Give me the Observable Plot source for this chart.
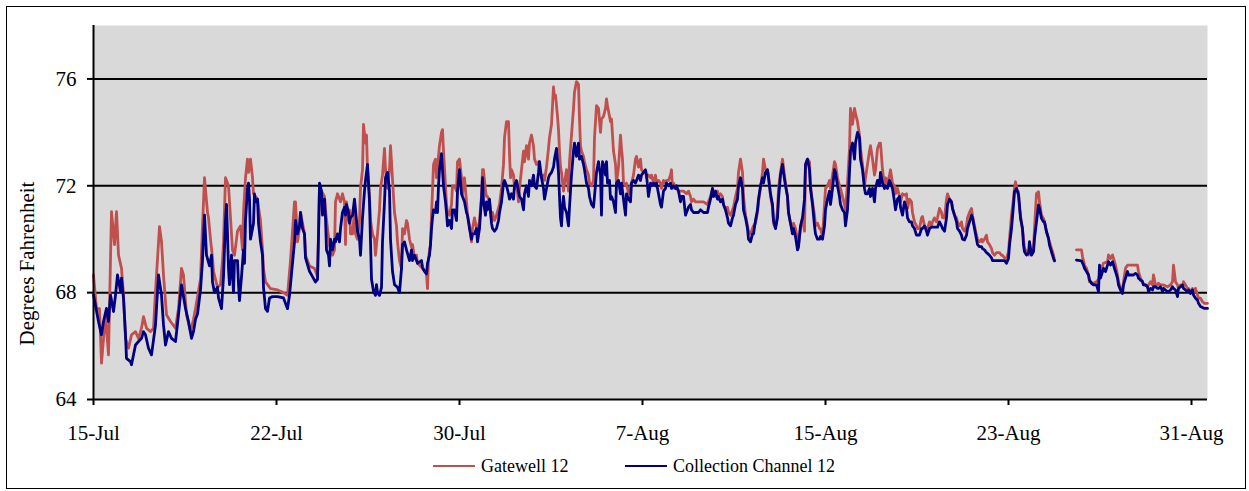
<!DOCTYPE html>
<html>
<head>
<meta charset="utf-8">
<script src="https://cdn.jsdelivr.net/npm/d3@7"></script>
<script src="https://cdn.jsdelivr.net/npm/@observablehq/plot@0.6"></script>
<style>
  html, body { margin: 0; padding: 0; background: #fff; }
  body { width: 1249px; height: 491px; position: relative; overflow: hidden;
         font-family: "Liberation Serif", "Times New Roman", serif; }
  #chart { position: absolute; left: 0; top: 0; }
  #border { position: absolute; left: 6px; top: 6px; width: 1240px; height: 483px;
            border: 1.5px solid #000; box-sizing: border-box; pointer-events: none; }
  .leg { position: absolute; top: 455px; height: 22px; display: flex; align-items: center;
         font-size: 18px; color: #000; white-space: nowrap; }
  .sw { display: inline-block; width: 42px; height: 2.8px; margin-right: 6px; }
</style>
</head>
<body>
<div id="chart"></div>
<div class="leg" style="left:433px"><span class="sw" style="background:#c0504d"></span>Gatewell 12</div>
<div class="leg" style="left:625px"><span class="sw" style="background:#000080"></span>Collection Channel 12</div>
<div id="border"></div>
<script>
// x = hours since 15-Jul 00:00, y = degrees Fahrenheit
const tickHours = [0, 183, 366, 549, 732, 915, 1098];
const tickLabels = ["15-Jul", "22-Jul", "30-Jul", "7-Aug", "15-Aug", "23-Aug", "31-Aug"];
const yTicks = [64, 68, 72, 76];
const gridTicks = [68, 72, 76];
const seriesNames = ["Gatewell 12", "Collection Channel 12"];

const gatewell12 = [
[0,68.66],[3,67.4],[6,67.4],[8,65.36],[12,67.17],[15,65.67],[18,71.03],[21,69.8],[23,71.03],[25,69.41],[28,68.91],[30,67.91],[32,66.29],[35,65.92],[38,66.42],[42,66.54],[45,66.29],[48,66.67],[50,67.1],[53,66.67],[57,66.54],[60,66.67],[62,68.04],[66,70.47],[68,69.91],[70,68.66],[73,67.17],[77,66.92],[82,66.67],[85,67.41],[88,68.91],[90,68.66],[93,67.17],[97,66.54],[100,67.0],
[102,67.4],[107,68.5],[109,70.5],[111,72.3],[114,71.0],[115,70.8],[117,70.0],[119,69.3],[120,68.8],[124,68.2],[127,68.3],[129,69.2],[130,69.9],[132,72.3],[135,72.0],[137,70.8],[139,69.6],[141,69.4],[144,70.3],[147,70.5],[149,69.6],[150,71.0],[152,72.3],[154,73.0],[155,72.5],[157,73.0],[159,72.3],[160,71.7],[164,71.5],[165,71.2],[167,70.7],[169,69.6],[170,68.9],[172,68.4],[177,68.15],[184,68.1],[190,68.0],[194,67.9],[197,69.2],[199,70.3],
[201,71.4],[202,71.4],[204,69.9],[206,70.4],[207,71.0],[211,70.2],[212,69.4],[216,69.0],[221,68.9],[224,68.6],[226,71.9],[228,71.8],[231,71.6],[232,71.1],[234,70.4],[236,69.8],[239,69.4],[241,69.6],[242,71.4],[244,71.7],[247,71.4],[249,71.7],[251,71.4],[252,69.8],[253,71.4],[255,70.7],[256,71.1],[257,70.2],[259,70.2],[261,71.1],[262,70.2],[264,70.0],[266,70.7],[267,71.9],[269,72.6],[270,74.3],[272,73.6],[273,73.9],[274,72.6],[276,71.6],[277,70.7],[279,70.2],[281,70.0],[282,69.4],[284,70.2],[286,71.1],[287,71.9],[289,72.4],[291,73.4],[292,72.6],[294,71.9],[296,72.6],[297,73.5],[298,72.9],[300,71.6],
[301,71.0],[303,70.5],[304,69.9],[306,69.2],[308,68.9],[309,70.4],[311,70.2],[313,70.7],[314,70.6],[316,70.0],[318,69.7],[319,69.8],[321,69.3],[323,69.4],[324,69.1],[328,68.95],[333,68.7],[334,68.15],[335,69.3],[337,69.8],[338,70.9],[339,71.8],[340,72.8],[342,73.0],[343,72.3],[344,72.5],[345,73.1],[346,73.5],[348,74.0],[349,74.1],[350,73.3],[352,72.0],[353,71.3],[354,71.0],[356,70.9],[358,71.3],[359,72.0],[361,72.0],[363,71.8],[364,72.9],[366,73.0],[368,72.3],[369,71.7],[371,72.3],[373,71.4],[374,70.9],[376,70.5],[378,69.9],[379,70.4],[381,70.8],[383,70.4],[384,70.3],[386,70.7],[388,71.6],[389,72.6],[390,72.6],[392,71.8],[393,71.6],[394,71.6],[396,71.4],[398,70.7],[399,71.0],[401,70.7],
[403,70.9],[406,71.3],[408,71.9],[410,72.8],[411,73.8],[413,74.4],[415,74.4],[416,73.2],[417,72.3],[418,72.6],[420,72.4],[421,71.9],[423,72.1],[425,71.4],[426,71.9],[428,72.6],[430,73.3],[431,72.9],[433,73.5],[435,73.0],[436,73.6],[438,73.9],[440,73.5],[441,73.0],[443,72.8],[445,72.9],[446,72.6],[448,72.3],[450,72.4],[451,72.2],[453,72.7],[455,73.4],[456,73.8],[458,74.3],[460,75.7],[461,75.3],[462,75.4],[464,74.6],[465,74.1],[466,73.3],[467,72.7],[468,72.5],[470,71.8],[471,72.1],[473,72.6],[475,71.8],[476,72.9],[478,73.9],[480,74.9],[481,75.5],[483,75.9],[485,75.8],[486,74.5],[487,73.5],[488,73.3],[490,73.1],[491,72.9],[493,72.6],[495,72.4],[496,72.1],[498,72.0],[500,72.2],[501,73.8],[503,75.0],
[505,74.9],[507,74.0],[508,74.5],[510,74.6],[512,74.9],[513,75.25],[514,75.0],[516,74.6],[517,74.4],[518,74.5],[520,73.3],[522,72.8],[523,72.1],[525,72.7],[527,73.9],[528,73.4],[529,73.0],[530,72.1],[532,72.0],[533,72.1],[535,71.7],[537,72.0],[538,72.1],[540,72.4],[542,73.0],[543,73.1],[545,72.7],[547,73.0],[548,72.6],[550,72.5],[552,72.5],[553,72.3],[555,72.4],[557,72.3],[558,72.4],[560,72.1],[562,72.4],[563,72.1],[565,72.2],[567,72.1],[568,71.9],[570,72.2],[572,72.1],[573,72.2],[575,72.2],[577,72.4],[578,72.6],[579,71.9],[580,72.1],[582,71.9],[583,71.9],[585,71.8],[587,71.8],[590,71.8],[593,71.7],[595,71.8],[597,71.6],[598,71.4],[600,71.5],[602,71.4],[605,71.4],
[607,71.4],[610,71.4],[614,71.3],[617,71.6],[619,71.9],[620,71.8],[622,71.6],[624,71.8],[625,71.6],[627,71.7],[629,71.6],[630,71.3],[632,71.1],[634,71.2],[635,71.0],[637,70.9],[639,71.1],[640,71.2],[642,71.6],[644,71.9],[645,72.5],[647,73.0],[649,72.5],[650,71.6],[652,70.9],[654,70.5],[655,70.3],[657,70.2],[659,70.4],[660,70.5],[662,70.6],[664,71.0],[665,71.4],[667,71.9],[669,72.5],[670,73.0],[672,72.6],[674,72.6],[675,72.4],[677,71.6],[679,71.2],[680,70.6],[682,70.4],[684,71.1],[685,71.9],[687,72.5],[689,73.0],[690,72.7],[692,72.1],[694,71.6],[695,71.0],[697,70.6],[699,70.4],[700,70.6],[702,70.4],[704,70.0],[705,69.8],[707,70.4],
[709,70.8],[711,70.3],[712,72.8],[714,73.0],[716,72.9],[717,72.0],[719,71.4],[721,70.9],[722,70.5],[724,70.6],[726,70.4],[727,70.4],[729,70.1],[731,71.3],[732,71.9],[734,72.0],[736,72.2],[737,71.9],[739,72.4],[741,72.9],[742,72.8],[744,72.3],[746,72.0],[747,71.9],[749,71.6],[751,71.3],[752,71.1],[754,72.1],[756,73.4],[757,74.9],[759,74.3],[761,74.9],[762,74.7],[764,74.4],[766,73.9],[767,73.4],[769,72.8],[771,72.0],[772,72.3],[774,72.8],[776,73.3],[777,73.5],[779,73.0],[781,72.4],[782,72.6],[784,73.4],[786,73.6],[787,73.6],[789,72.6],[791,72.0],[792,72.3],[794,72.1],[796,72.4],[797,72.6],[799,72.1],[801,72.0],[802,71.7],[804,71.9],[806,71.6],[807,71.4],[809,71.7],
[811,71.65],[813,71.7],[814,71.15],[816,71.5],[818,71.4],[819,71.0],[821,70.65],[823,70.5],[824,70.4],[826,70.4],[828,70.8],[829,70.85],[831,70.5],[833,70.4],[834,70.4],[836,70.65],[838,70.5],[839,70.65],[841,70.8],[843,70.65],[844,70.8],[846,71.15],[848,71.0],[849,70.8],[851,70.8],[853,71.5],[854,71.7],[856,71.5],[858,71.4],[859,71.15],[861,70.9],[863,70.8],[864,70.65],[866,70.5],[868,70.65],[869,70.4],[871,70.3],[873,70.5],[874,70.8],[876,71.0],[878,71.15],[879,70.9],[881,70.5],[883,70.15],[884,70.0],[886,69.9],[888,70.0],[889,69.9],[891,70.0],[893,70.15],[894,69.9],[896,69.8],[898,69.65],[899,69.5],[901,69.4],[903,69.5],[904,69.5],[906,69.5],[908,69.4],[909,69.4],[911,69.3],
[913,69.28],[915,69.53],[916,70.03],[918,70.9],[920,71.53],[921,71.9],[922,72.15],[924,71.78],[925,71.78],[926,71.15],[928,70.65],[930,70.03],[931,69.66],[933,69.53],[935,69.41],[936,69.53],[938,69.41],[940,69.66],[941,70.4],[943,71.71],[945,71.78],[946,71.4],[948,70.9],[950,70.78],[951,70.65],[953,70.28],[955,70.03],[956,69.91],[958,69.66],[960,69.41],[961,69.22],
[970,NaN],
[983,69.6],[988,69.6],[989,69.35],[991,69.03],[993,68.91],[995,68.66],[996,68.41],[1000,68.35],[1003,68.41],[1005,68.5],
[1007,68.8],[1010,69.1],[1014,69.16],[1015,69.41],[1017,69.28],[1019,69.41],[1020,69.28],[1022,69.03],[1024,68.66],[1025,68.41],[1027,68.16],[1029,68.1],[1030,68.41],[1032,68.91],[1034,69.03],[1037,69.03],[1040,69.03],[1044,69.03],[1045,68.79],[1047,68.54],[1049,68.41],[1050,68.29],[1052,68.29],[1054,68.22],[1055,68.29],[1057,68.41],[1059,68.29],[1060,68.66],[1062,68.29],[1064,68.29],[1065,68.35],[1067,68.29],[1070,68.29],[1074,68.22],[1077,68.29],[1079,68.41],[1080,69.03],[1082,68.41],[1084,68.29],[1085,68.16],[1087,68.29],[1089,68.22],[1090,68.41],[1092,68.29],[1094,68.16],[1095,68.16],[1097,68.04],[1099,68.16],[1100,67.97],[1102,68.16],[1104,67.91],[1105,67.79],[1107,67.79],[1109,67.66],[1111,67.6],[1114,67.6]
];

const collectionChannel12 = [
[0,67.91],[5,66.92],[8,66.42],[10,66.92],[13,67.41],[15,66.92],[17,67.91],[20,67.29],[22,67.91],[24,68.66],[27,68.04],[28,68.54],[30,67.79],[32,66.42],[33,65.54],[37,65.42],[38,65.3],[42,66.04],[45,66.17],[48,66.29],[50,66.54],[52,66.42],[55,65.92],[58,65.67],[62,66.79],[65,68.66],[68,67.91],[70,66.79],[72,66.04],[75,66.54],[78,66.29],[82,66.17],[85,67.17],[88,68.29],[92,67.41],[95,66.92],[98,66.29],[100,66.54],
[102,67.0],[104,67.2],[107,68.1],[109,69.2],[111,70.9],[113,69.4],[116,69.0],[118,69.4],[119,68.4],[121,68.0],[124,68.2],[125,67.8],[128,67.4],[129,68.0],[130,68.6],[132,70.7],[133,71.3],[134,70.2],[135,68.9],[136,68.3],[138,69.4],[139,68.7],[140,68.0],[141,69.2],[144,69.2],[145,68.3],[146,67.7],[148,68.6],[149,69.1],[150,69.6],[151,69.1],[152,70.7],[154,71.9],[155,72.1],[156,71.5],[157,70.0],[158,70.2],[160,70.6],[161,71.7],[162,71.4],[164,71.5],[165,70.6],[167,69.9],[169,69.4],[170,68.2],[172,67.4],[174,67.3],[176,67.8],[179,67.85],[184,67.85],[190,67.8],[193,67.5],[194,67.4],[196,67.9],[198,68.7],
[201,69.9],[202,70.7],[204,70.2],[206,70.5],[207,71.0],[209,70.4],[211,70.2],[212,69.3],[216,68.8],[219,68.6],[222,68.4],[224,68.5],[225,70.1],[226,72.1],[228,71.8],[229,70.9],[231,71.5],[232,70.8],[233,69.6],[235,69.4],[236,69.0],[237,70.0],[239,69.6],[241,70.0],[242,69.9],[244,70.2],[246,69.9],[247,70.4],[249,71.0],[251,71.2],[252,70.9],[253,71.3],[255,71.0],[256,70.6],[257,70.8],[259,70.9],[261,71.5],[262,71.1],[264,70.3],[266,70.0],[267,69.4],[269,70.8],[271,71.8],[272,72.2],[274,72.8],[276,71.4],[277,69.9],[278,68.5],[280,68.05],[282,67.9],[283,68.3],[284,68.0],[286,67.9],[288,68.2],[289,69.9],[291,71.4],[292,72.3],[294,72.5],[296,71.8],[297,70.0],[299,68.8],
[301,68.3],[304,68.2],[306,68.0],[308,68.9],[309,69.8],[311,69.9],[313,69.6],[316,69.2],[318,69.6],[319,69.2],[321,69.4],[323,69.2],[324,69.1],[328,69.2],[329,68.95],[331,68.8],[333,68.7],[334,69.1],[336,69.4],[337,69.8],[338,70.4],[339,70.8],[340,71.1],[342,71.0],[343,71.4],[344,71.0],[345,72.0],[346,72.6],[348,73.2],[349,72.6],[350,72.0],[352,71.4],[353,71.0],[354,70.5],[356,70.7],[358,70.4],[359,71.1],[361,71.1],[363,70.7],[364,71.8],[366,72.6],[368,71.7],[369,71.6],[371,71.4],[373,71.0],[374,70.9],[376,70.4],[378,70.0],[379,70.2],[381,70.2],[383,70.4],[384,69.9],[386,70.4],[388,71.5],[389,72.3],[390,71.4],[392,70.9],[393,71.4],[394,71.1],[396,71.5],[398,70.6],[399,70.4],[401,70.3],
[403,70.4],[405,70.7],[406,71.0],[408,71.4],[410,72.1],[411,72.2],[413,72.0],[415,71.7],[416,71.5],[418,71.7],[420,71.5],[421,72.0],[423,72.2],[425,71.8],[426,71.6],[428,71.5],[430,71.1],[431,71.7],[433,72.0],[435,71.6],[436,72.2],[438,72.0],[440,72.4],[441,72.0],[443,71.9],[445,72.5],[446,72.9],[448,72.3],[450,71.9],[451,71.5],[453,71.9],[455,72.3],[456,72.4],[458,72.5],[460,72.7],[461,73.0],[463,73.4],[465,72.5],[466,71.6],[467,70.8],[468,70.5],[469,71.2],[470,71.6],[471,71.2],[473,71.0],[475,70.5],[476,71.2],[478,72.4],[480,73.3],[481,73.6],[483,73.1],[485,73.6],[486,73.0],[488,73.1],[490,72.8],[491,72.6],[493,72.1],[495,71.9],[496,71.6],[498,71.3],[500,71.2],[501,71.6],[503,72.5],
[505,72.9],[507,72.4],[508,70.9],[509,72.9],[510,72.8],[512,72.4],[513,72.9],[514,72.1],[516,72.2],[517,71.5],[518,71.6],[520,71.4],[522,71.0],[523,72.1],[525,72.2],[527,71.7],[528,72.1],[530,71.5],[532,70.9],[533,71.7],[535,71.5],[537,71.4],[538,72.1],[540,72.2],[542,72.1],[543,72.2],[545,72.4],[547,72.2],[548,72.4],[550,72.5],[552,72.6],[553,72.4],[555,71.6],[557,72.1],[558,72.0],[560,72.1],[562,72.0],[563,72.1],[565,71.7],[567,71.3],[568,71.2],[570,71.8],[572,71.9],[573,72.1],[575,72.0],[577,72.1],[578,71.9],[580,72.0],[582,71.9],[583,72.0],[585,71.8],[587,71.4],[588,71.6],[590,71.6],[592,70.9],[593,71.0],[595,71.2],[597,71.3],[598,71.1],[600,71.0],[605,71.0],
[607,71.1],[610,71.0],[614,71.0],[615,71.2],[617,71.5],[619,71.9],[620,71.6],[622,71.8],[624,71.5],[625,71.6],[627,71.4],[629,71.5],[630,71.3],[632,71.1],[634,70.8],[635,70.6],[637,70.5],[639,70.8],[640,70.9],[642,71.3],[644,71.5],[645,72.0],[647,72.3],[649,71.9],[650,71.1],[652,70.8],[654,70.4],[655,70.0],[657,69.9],[659,70.2],[660,70.2],[662,70.7],[664,71.1],[665,71.5],[667,72.0],[669,72.3],[670,72.1],[672,72.5],[674,72.6],[675,72.3],[677,71.7],[679,71.3],[680,70.7],[682,70.4],[684,70.8],[685,71.5],[687,72.4],[689,72.8],[690,72.5],[692,72.0],[694,71.6],[695,71.0],[697,70.6],[699,70.2],[700,70.4],[702,70.1],[704,69.6],[705,69.7],[707,70.5],
[709,70.8],[711,71.5],[712,72.8],[714,73.0],[716,72.6],[717,71.9],[719,71.3],[721,70.5],[722,70.2],[724,70.0],[726,70.0],[727,70.1],[729,70.0],[731,70.5],[732,71.1],[734,71.5],[736,71.8],[737,71.3],[739,71.9],[741,72.6],[742,72.5],[744,72.0],[746,71.6],[747,71.3],[749,71.1],[751,71.0],[752,70.5],[754,71.1],[756,72.5],[757,73.3],[759,73.6],[761,73.0],[762,73.6],[764,74.0],[766,73.8],[767,73.0],[769,72.6],[771,71.9],[772,71.7],[774,71.7],[776,71.9],[777,71.6],[779,71.9],[781,71.4],[782,71.9],[784,72.2],[786,72.0],[787,72.5],[789,72.1],[791,71.9],[792,72.0],[794,71.9],[796,72.2],[797,72.1],[799,71.9],[801,71.4],[802,71.1],[804,71.5],[806,71.6],[807,71.2],[809,70.9],
[811,71.4],[813,71.15],[814,70.8],[816,70.65],[818,70.65],[819,70.5],[821,70.4],[823,70.15],[826,70.15],[828,70.4],[829,70.4],[831,70.5],[833,70.3],[834,70.15],[836,70.4],[838,70.45],[841,70.45],[844,70.45],[846,70.65],[848,70.5],[849,70.4],[851,70.3],[853,70.8],[854,71.3],[856,71.5],[858,71.4],[859,71.15],[861,70.9],[863,70.65],[864,70.4],[866,70.3],[868,70.15],[869,70.0],[871,69.97],[873,70.15],[874,70.4],[876,70.65],[878,70.9],[879,70.8],[881,70.4],[883,70.0],[884,69.8],[886,69.72],[888,69.72],[889,69.65],[891,69.6],[893,69.5],[894,69.47],[896,69.4],[898,69.3],[899,69.2],[901,69.2],[904,69.2],[908,69.2],[911,69.2],
[913,69.1],[915,69.28],[916,69.78],[918,70.4],[920,71.28],[921,71.78],[923,71.9],[925,71.65],[926,71.28],[927,70.78],[929,70.4],[930,69.78],[931,69.53],[933,69.41],[935,69.47],[936,69.91],[938,69.41],[940,69.53],[941,70.03],[943,70.65],[945,71.28],[946,71.15],[948,70.78],[950,70.65],[951,70.65],[953,70.28],[955,70.03],[956,69.78],[958,69.53],[960,69.28],[961,69.19],
[970,NaN],
[983,69.22],[988,69.19],[990,69.03],[991,68.91],[993,68.79],[995,68.66],[996,68.47],[998,68.35],[1000,68.29],[1003,68.29],[1005,68.04],[1006,69.03],[1007,68.54],
[1009,68.79],[1010,68.91],[1012,68.79],[1014,69.03],[1015,69.16],[1017,69.03],[1019,69.16],[1020,69.03],[1022,68.79],[1024,68.54],[1025,68.29],[1027,68.1],[1029,67.97],[1030,68.29],[1032,68.54],[1034,68.79],[1035,68.66],[1037,68.66],[1040,68.66],[1042,68.72],[1044,68.66],[1045,68.54],[1047,68.47],[1049,68.41],[1050,68.29],[1052,68.29],[1054,68.22],[1055,68.04],[1057,68.16],[1059,68.1],[1060,68.22],[1062,68.22],[1064,68.16],[1065,68.16],[1067,68.22],[1069,68.04],[1070,68.16],[1072,68.1],[1074,68.04],[1075,68.04],[1077,68.1],[1079,68.22],[1080,68.16],[1082,68.1],[1084,67.85],[1085,68.16],[1087,68.22],[1089,68.29],[1090,68.16],[1092,68.1],[1094,68.04],[1095,68.1],[1097,67.97],[1099,68.1],[1100,67.91],[1102,67.79],[1104,67.72],[1105,67.6],[1107,67.48],[1111,67.41],[1114,67.41]
];

const toRows = (arr, name) => arr.map(([hour, temp]) => ({hour, temp, series: name}));
const gwRows = toRows(gatewell12, seriesNames[0]);
const ccRows = toRows(collectionChannel12, seriesNames[1]);

const chart = Plot.plot({
  width: 1249,
  height: 455,
  marginLeft: 93,
  marginRight: 42,
  marginTop: 25,
  marginBottom: 56,
  style: {
    fontFamily: '"Liberation Serif", "Times New Roman", serif',
    fontSize: "21px",
    color: "#000",
    background: "transparent",
    overflow: "visible"
  },
  x: {domain: [0, 1114]},
  y: {domain: [64, 78]},
  marks: [
    Plot.frame({fill: "#d9d9d9"}),
    Plot.ruleY(gridTicks, {stroke: "#000", strokeWidth: 2}),
    Plot.line(gwRows, {x: "hour", y: "temp", stroke: "#c0504d", strokeWidth: 2.8, strokeLinejoin: "round"}),
    Plot.line(ccRows, {x: "hour", y: "temp", stroke: "#000080", strokeWidth: 2.8, strokeLinejoin: "round"}),
    Plot.ruleX([0], {stroke: "#000", strokeWidth: 2}),
    Plot.ruleY([64], {stroke: "#000", strokeWidth: 2}),
    Plot.axisY({ticks: yTicks, tickSize: 6, tickPadding: 11, label: null, strokeWidth: 2}),
    Plot.axisX({ticks: tickHours, tickSize: 6, tickPadding: 20, label: null, strokeWidth: 2,
                tickFormat: d => tickLabels[tickHours.indexOf(d)]}),
    Plot.text(["Degrees Fahrenheit"], {text: d => d, frameAnchor: "left", textAnchor: "middle",
                rotate: -90, dx: -66, dy: 51, fontSize: 21})
  ]
});
document.getElementById("chart").appendChild(chart);
</script>
</body>
</html>
